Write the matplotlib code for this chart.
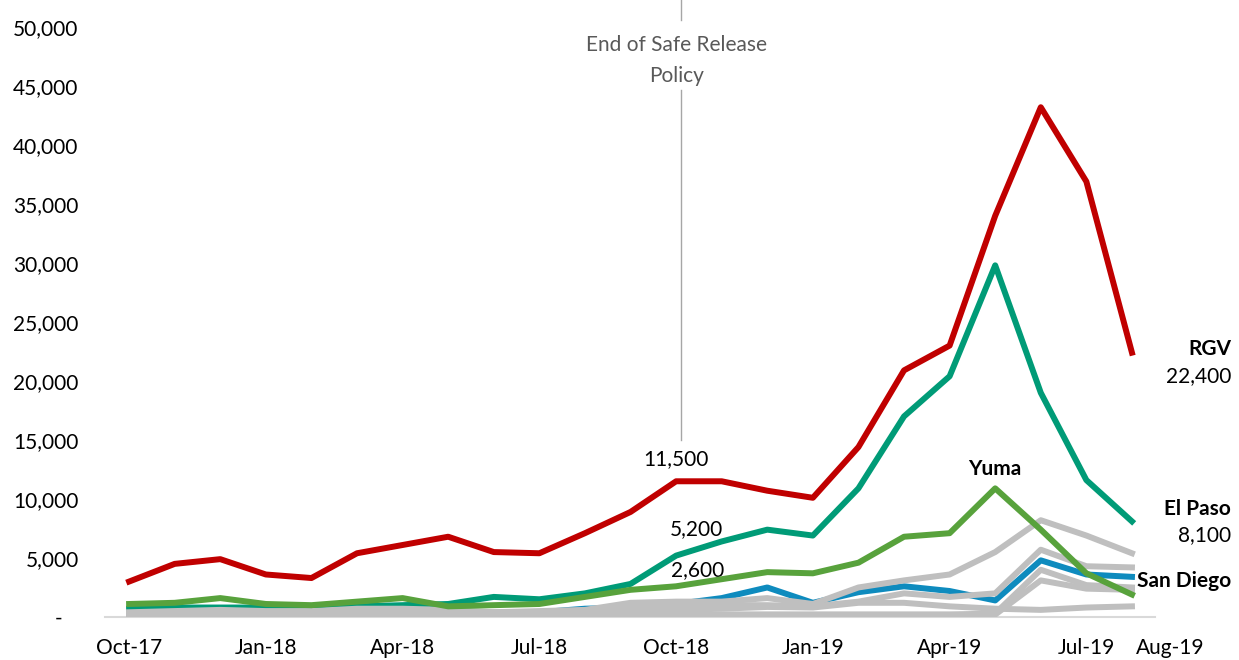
import matplotlib.pyplot as plt
import numpy as np

# Monthly family apprehensions by sector, Oct-17 .. Aug-19 (thousands)
months = ["Oct-17", "Nov-17", "Dec-17", "Jan-18", "Feb-18", "Mar-18", "Apr-18", "May-18",
          "Jun-18", "Jul-18", "Aug-18", "Sep-18", "Oct-18", "Nov-18", "Dec-18", "Jan-19",
          "Feb-19", "Mar-19", "Apr-19", "May-19", "Jun-19", "Jul-19", "Aug-19"]

rgv = [3.0, 4.5, 4.9, 3.6, 3.3, 5.4, 6.1, 6.8, 5.5, 5.4, 7.1, 8.9, 11.5, 11.5, 10.7, 10.1,
       14.4, 20.9, 23.0, 34.0, 43.2, 36.9, 22.4]
el_paso = [0.7, 0.8, 0.8, 0.8, 0.8, 0.9, 1.0, 1.1, 1.7, 1.5, 2.0, 2.8, 5.2, 6.4, 7.4, 6.9,
           10.9, 17.0, 20.4, 29.8, 19.0, 11.6, 8.1]
yuma = [1.1, 1.2, 1.6, 1.1, 1.0, 1.3, 1.6, 0.9, 1.0, 1.1, 1.7, 2.3, 2.6, 3.2, 3.8, 3.7,
        4.6, 6.8, 7.1, 10.9, 7.4, 3.7, 1.9]
san_diego = [0.1, 0.15, 0.2, 0.15, 0.15, 0.3, 0.35, 0.25, 0.3, 0.4, 0.7, 0.8, 1.1, 1.6, 2.5, 1.2,
             2.1, 2.6, 2.2, 1.4, 4.8, 3.6, 3.4]

# other sectors, drawn in gray
other_a = [0.4, 0.5, 0.6, 0.5, 0.5, 0.7, 0.7, 0.6, 0.4, 0.5, 0.6, 1.2, 1.3, 1.3, 1.6, 1.1,
           2.5, 3.1, 3.6, 5.5, 8.2, 6.9, 5.4]
other_b = [0.3, 0.4, 0.4, 0.4, 0.4, 0.5, 0.5, 0.4, 0.4, 0.4, 0.5, 0.8, 0.9, 1.0, 1.0, 0.9,
           1.3, 2.0, 1.7, 2.0, 5.7, 4.3, 4.2]
other_c = [0.1, 0.1, 0.1, 0.1, 0.1, 0.1, 0.1, 0.1, 0.1, 0.1, 0.1, 0.1, 0.1, 0.2, 0.2, 0.2,
           0.2, 0.2, 0.2, 0.3, 4.0, 2.7, 2.5]
other_d = [0.2, 0.2, 0.2, 0.2, 0.2, 0.2, 0.2, 0.2, 0.2, 0.2, 0.2, 0.2, 0.2, 0.2, 0.2, 0.2,
           0.2, 0.2, 0.2, 0.2, 3.1, 2.4, 2.3]
other_e = [0.3, 0.3, 0.3, 0.3, 0.3, 0.4, 0.4, 0.3, 0.3, 0.3, 0.4, 0.5, 0.6, 0.7, 0.85, 0.8,
           1.2, 1.2, 0.9, 0.7, 0.6, 0.8, 0.9]

tick_months = ["Oct-17", "Jan-18", "Apr-18", "Jul-18", "Oct-18", "Jan-19", "Apr-19", "Jul-19"]
policy_month = 12.1   # End of Safe Release Policy, just after Oct-18

plt.rcParams['font.family'] = ['Lato', 'DejaVu Sans']

RED = "#C00000"
TEAL = "#009B77"
GREEN = "#58A23C"
BLUE = "#0E8BBE"
GRAY = "#BFBFBF"


def k(vals):
    return np.array(vals) * 1000


fig = plt.figure(figsize=(12.39, 6.60), dpi=100)
ax = fig.add_axes([0.0847, 0.0652, 0.8473, 0.8939])

x = np.arange(len(months))
lw = 4.3
ax.plot(x, k(el_paso), color=TEAL, lw=lw, zorder=2)
ax.plot(x, k(san_diego), color=BLUE, lw=lw, zorder=3)
for g in [other_e, other_d, other_c, other_b, other_a]:
    ax.plot(x, k(g), color=GRAY, lw=lw, zorder=4)
ax.plot(x, k(yuma), color=GREEN, lw=lw, zorder=5)
ax.plot(x, k(rgv), color=RED, lw=lw, zorder=6)

ax.set_xlim(-0.53, 22.5)
ax.set_ylim(0, 50000)

yt = np.arange(0, 50001, 5000)
ax.set_yticks(yt)
ax.set_yticklabels(["-   " if v == 0 else f"{v:,}" for v in yt])
ax.set_xticks([months.index(m) for m in tick_months])
ax.set_xticklabels(tick_months)
ax.tick_params(axis='y', length=0, pad=19, labelsize=15)
ax.tick_params(axis='x', length=0, pad=15, labelsize=15)
# Aug-19 label sits off to the right of the last point
ax.text(22.83, -0.053, "Aug-19", transform=ax.get_xaxis_transform(),
        ha='center', va='center', fontsize=15)

for s in ['top', 'right', 'left']:
    ax.spines[s].set_visible(False)
ax.spines['bottom'].set_color("#D9D9D9")
ax.spines['bottom'].set_linewidth(1.5)

# policy line and caption
ax.plot([policy_month, policy_month], [15000, 44700], color="#A6A6A6", lw=1, zorder=1)
ax.plot([policy_month, policy_month], [50600, 53000], color="#A6A6A6", lw=1, zorder=1,
        clip_on=False)
ax.text(12.0, 47150, "End of Safe Release\nPolicy", ha='center', va='center',
        fontsize=15, color="#595959", linespacing=1.65)

# series labels
last = len(months) - 1
lab = dict(textcoords='offset pixels', fontsize=15, va='center')
ax.annotate("RGV", (last, rgv[-1] * 1000), xytext=(99, 4), ha='right',
            fontweight='bold', **lab)
ax.annotate(f"{rgv[-1] * 1000:,.0f}", (last, rgv[-1] * 1000), xytext=(99, -23),
            ha='right', **lab)
ax.annotate("El Paso", (last, el_paso[-1] * 1000), xytext=(99, 12), ha='right',
            fontweight='bold', **lab)
ax.annotate(f"{el_paso[-1] * 1000:,.0f}", (last, el_paso[-1] * 1000), xytext=(99, -14),
            ha='right', **lab)
ax.annotate("San Diego", (last, san_diego[-1] * 1000), xytext=(99, -4), ha='right',
            fontweight='bold', **lab)
ipk = int(np.argmax(yuma))
ax.annotate("Yuma", (ipk, yuma[ipk] * 1000), xytext=(0, 19), ha='center',
            fontweight='bold', **lab)

i_oct = months.index("Oct-18")
ax.annotate(f"{rgv[i_oct] * 1000:,.0f}", (i_oct, rgv[i_oct] * 1000), xytext=(0, 22),
            ha='center', **lab)
ax.annotate(f"{el_paso[i_oct] * 1000:,.0f}", (i_oct, el_paso[i_oct] * 1000), xytext=(20, 27),
            ha='center', **lab)
ax.annotate(f"{yuma[i_oct] * 1000:,.0f}", (i_oct, yuma[i_oct] * 1000), xytext=(22, 16),
            ha='center', **lab)

fig.savefig("out.png", dpi=100)
